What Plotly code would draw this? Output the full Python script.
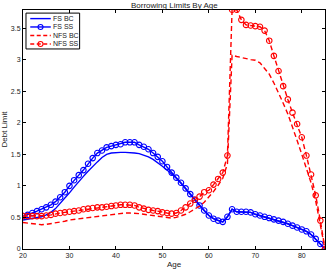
import plotly.graph_objects as go

ages = list(range(20, 86))

fs_ss = [0.52, 0.54, 0.57, 0.60, 0.63, 0.66, 0.70, 0.75, 0.82, 0.90,
         1.00, 1.09, 1.17, 1.25, 1.35, 1.44, 1.52, 1.56, 1.61, 1.63,
         1.65, 1.66, 1.69, 1.69, 1.69, 1.65, 1.62, 1.58, 1.52, 1.46,
         1.39, 1.30, 1.21, 1.13, 1.05, 0.96, 0.87, 0.78, 0.69, 0.61,
         0.53, 0.48, 0.45, 0.43, 0.51, 0.63, 0.59, 0.59, 0.59, 0.58,
         0.55, 0.53, 0.51, 0.49, 0.47, 0.45, 0.43, 0.40, 0.37, 0.34,
         0.31, 0.28, 0.23, 0.16, 0.08, 0.00]

fs_bc = [0.46, 0.47, 0.48, 0.49, 0.51, 0.54, 0.58, 0.64, 0.72, 0.80,
         0.89, 0.98, 1.07, 1.15, 1.23, 1.31, 1.38, 1.45, 1.50, 1.52,
         1.53, 1.53, 1.53, 1.53, 1.52, 1.51, 1.49, 1.46, 1.42, 1.37,
         1.31, 1.25, 1.19, 1.12, 1.04, 0.95, 0.86, 0.78, 0.69, 0.61,
         0.53, 0.48, 0.45, 0.43, 0.51, 0.63, 0.59, 0.59, 0.59, 0.58,
         0.55, 0.53, 0.51, 0.49, 0.47, 0.45, 0.43, 0.40, 0.37, 0.34,
         0.31, 0.28, 0.23, 0.16, 0.08, 0.00]

nfs_ss = [0.52, 0.52, 0.52, 0.52, 0.52, 0.53, 0.54, 0.56, 0.57, 0.58,
          0.59, 0.60, 0.61, 0.63, 0.64, 0.65, 0.66, 0.66, 0.67, 0.68,
          0.69, 0.70, 0.70, 0.70, 0.69, 0.66, 0.64, 0.62, 0.61, 0.60,
          0.58, 0.57, 0.56, 0.57, 0.61, 0.66, 0.72, 0.78, 0.83, 0.90,
          0.93, 1.02, 1.11, 1.21, 1.48, 3.79, 3.79, 3.63, 3.55, 3.54,
          3.53, 3.52, 3.46, 3.30, 3.06, 2.82, 2.58, 2.37, 2.16, 1.98,
          1.77, 1.48, 1.18, 0.85, 0.45, 0.00]

nfs_bc = [0.42, 0.41, 0.40, 0.39, 0.385, 0.39, 0.40, 0.42, 0.43, 0.44,
          0.46, 0.47, 0.48, 0.49, 0.50, 0.51, 0.52, 0.53, 0.54, 0.55,
          0.56, 0.57, 0.57, 0.57, 0.57, 0.56, 0.55, 0.54, 0.53, 0.52,
          0.51, 0.50, 0.49, 0.50, 0.52, 0.55, 0.59, 0.63, 0.68, 0.74,
          0.82, 0.91, 1.01, 1.12, 1.35, 3.07, 3.05, 3.03, 3.02, 3.00,
          2.99, 2.95, 2.86, 2.77, 2.63, 2.48, 2.31, 2.14, 1.94, 1.72,
          1.50, 1.28, 1.05, 0.76, 0.40, 0.00]

x_ticks = [20, 30, 40, 50, 60, 70, 80]
y_ticks = [0, 0.5, 1, 1.5, 2, 2.5, 3, 3.5]
y_tick_text = ["0", "0.5", "1", "1.5", "2", "2.5", "3", "3.5"]

series_names = ["FS BC", "FS SS", "NFS BC", "NFS SS"]

BLUE = "rgb(0,0,255)"
RED = "rgb(255,0,0)"
DASH = "5px,3px"

styles = [
    dict(color=BLUE, dash="solid", marker=False),
    dict(color=BLUE, dash="solid", marker=True),
    dict(color=RED, dash=DASH, marker=False),
    dict(color=RED, dash=DASH, marker=True),
]

fig = go.Figure()
for name, vals, st in zip(series_names, [fs_bc, fs_ss, nfs_bc, nfs_ss], styles):
    fig.add_trace(go.Scatter(
        x=ages, y=vals, name=name,
        mode="lines+markers" if st["marker"] else "lines",
        line=dict(color=st["color"], width=1.4, dash=st["dash"]),
        marker=dict(symbol="circle-open", size=5.5, color=st["color"],
                    line=dict(width=1.1)),
        showlegend=False))

# compact legend box (MATLAB style)
lx0, lx1, ly0, ly1 = 0.0099, 0.1875, 0.837, 0.987
fig.add_shape(type="rect", xref="paper", yref="paper", x0=lx0, x1=lx1, y0=ly0, y1=ly1,
              line=dict(color="black", width=1), fillcolor="white", layer="above")
row_y = [0.964, 0.929, 0.893, 0.858]
for name, st, yy in zip(series_names, styles, row_y):
    fig.add_shape(type="line", xref="paper", yref="paper", x0=0.024, x1=0.092, y0=yy, y1=yy,
                  line=dict(color=st["color"], width=1.4,
                            dash="4px,2.5px" if st["dash"] != "solid" else "solid"),
                  layer="above")
    if st["marker"]:
        fig.add_shape(type="circle", xref="paper", yref="paper",
                      xsizemode="pixel", ysizemode="pixel", xanchor=0.058, yanchor=yy,
                      x0=-2.5, x1=2.5, y0=-2.5, y1=2.5,
                      line=dict(color=st["color"], width=1.1), layer="above")
    fig.add_annotation(text=name, x=0.094, y=yy, xref="paper", yref="paper",
                       xanchor="left", yanchor="middle", showarrow=False,
                       font=dict(size=7, color="#222"))

axis_common = dict(showline=True, linecolor="black", linewidth=1, mirror="ticks",
                   ticks="inside", ticklen=3, tickcolor="black", showgrid=False,
                   zeroline=False, tickfont=dict(family="Liberation Sans", size=7, color="#222"))

fig.update_layout(
    width=329, height=271,
    margin=dict(l=22, r=3, t=10, b=22),
    paper_bgcolor="white", plot_bgcolor="white",
    font=dict(family="Liberation Sans", size=7, color="#222"),
    showlegend=False,
    xaxis=dict(range=[20, 85], tickvals=x_ticks, ticktext=[str(v) for v in x_ticks],
               title=dict(text="Age", standoff=2, font=dict(size=8)), **axis_common),
    yaxis=dict(range=[0, 3.786], tickvals=y_ticks, ticktext=y_tick_text,
               title=dict(text="Debt Limit", standoff=2, font=dict(size=8)), **axis_common),
)

fig.add_annotation(text="Borrowing Limits By Age", x=0.5, y=1, xref="paper", yref="paper",
                   xanchor="center", yanchor="bottom", yshift=-2, showarrow=False,
                   font=dict(size=8, color="#222"))

fig.write_html("out.html")
